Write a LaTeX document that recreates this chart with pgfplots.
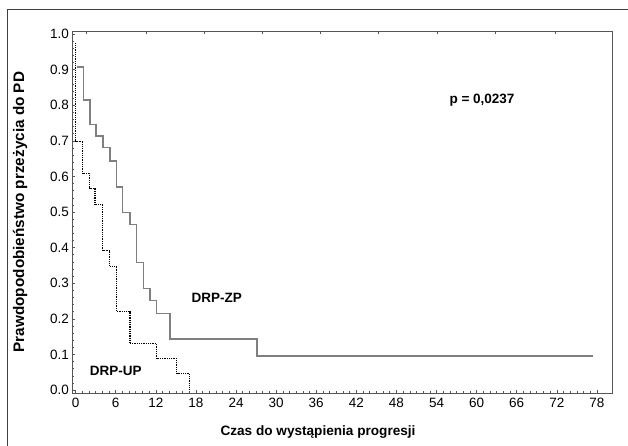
\documentclass[border=0pt]{standalone}
\usepackage{fontspec}
\setmainfont{Liberation Sans}
\usepackage{pgfplots}
\pgfplotsset{compat=1.18}
\definecolor{axgray}{HTML}{555555}
\definecolor{zpgray}{HTML}{7F7F7F}
\begin{document}
\begin{tikzpicture}[x=1pt,y=1pt]
\useasboundingbox (0,0) rectangle (628,445);
\draw[black!75, line width=1pt] (628,435) -- (7,435) -- (7,-1);
\begin{axis}[at={(72.3pt,51.7pt)}, anchor=south west, scale only axis,
  width=540pt, height=361.8pt,
  xmin=-0.5, xmax=80.3, ymin=-0.009, ymax=1.007,
  xtick={0,6,...,78}, ytick={0,0.1,...,1.0},
  minor x tick num=5, minor y tick num=4,
  xtick pos=bottom, ytick pos=left,
  tick align=inside,
  major tick length=3pt, minor tick length=2pt,
  axis line style={axgray, line width=1.1pt},
  tick style={axgray, line width=0.6pt},
  /pgf/number format/assume math mode=true,
  ticklabel style={font=\fontsize{13.5}{15}\selectfont},
  yticklabel style={/pgf/number format/.cd, fixed, fixed zerofill, precision=1},
  xticklabel style={yshift=-1pt},
  xlabel={\textbf{Czas do wystąpienia progresji}},
  ylabel={\textbf{Prawdopodobieństwo przeżycia do PD}},
  xlabel style={font=\fontsize{13.6}{16}\selectfont, at={(rel axis cs:0.455,0)}, anchor=center, yshift=-39pt},
  ylabel style={font=\fontsize{15.3}{17}\selectfont, at={(rel axis cs:0,0.501)}, anchor=center, yshift=52.3pt},
  clip=false,
]
% DRP-ZP (solid gray)
\addplot[const plot, zpgray, line width=1.5pt] coordinates {
 (0.15,0.908) (1.14,0.815) (2.14,0.746) (3.04,0.713) (4.13,0.681)
 (5.13,0.643) (6.14,0.571) (7.04,0.499) (8.13,0.465) (9.13,0.359)
 (10.12,0.286) (11.12,0.251) (12.13,0.215) (14.1,0.143) (27.1,0.0955)
 (77.4,0.0955)};
% DRP-UP (dotted black)
\addplot[const plot, black, line width=1.1pt, dash pattern=on 0.9pt off 0.9pt] coordinates {
 (0.0,0.974) (0.0,0.699) (1.05,0.609) (2.14,0.567) (2.9,0.522) (4.04,0.391)
 (5.13,0.348) (6.14,0.22) (8.13,0.131) (12.13,0.089) (15.1,0.047)
 (17.0,0.0) (17.0,0.0)};
\node[font=\bfseries\fontsize{13.5}{15}\selectfont] at (axis cs:21.1,0.26) {DRP-ZP};
\node[font=\bfseries\fontsize{13.5}{15}\selectfont] at (axis cs:6.0,0.054) {DRP-UP};
\node[font=\bfseries\fontsize{13.5}{15}\selectfont] at (axis cs:60.8,0.815) {p = 0,0237};
\end{axis}
% top-axis ticks (independent scale)
\begin{axis}[at={(72.3pt,51.7pt)}, anchor=south west, scale only axis,
  width=540pt, height=361.8pt,
  xmin=-0.5, xmax=80.3, ymin=0, ymax=1,
  axis line style={draw=none}, tick align=inside, major tick length=3pt,
  tick style={axgray, line width=0.6pt},
  xtick={1.54,10.5,19.2,27.9,36.6,45.3,54.1,62.8,71.7}, xtick pos=upper,
  xticklabels=\empty, ytick=\empty]
\addplot[draw=none] coordinates {(0,0.5)};
\end{axis}
\end{tikzpicture}
\end{document}
